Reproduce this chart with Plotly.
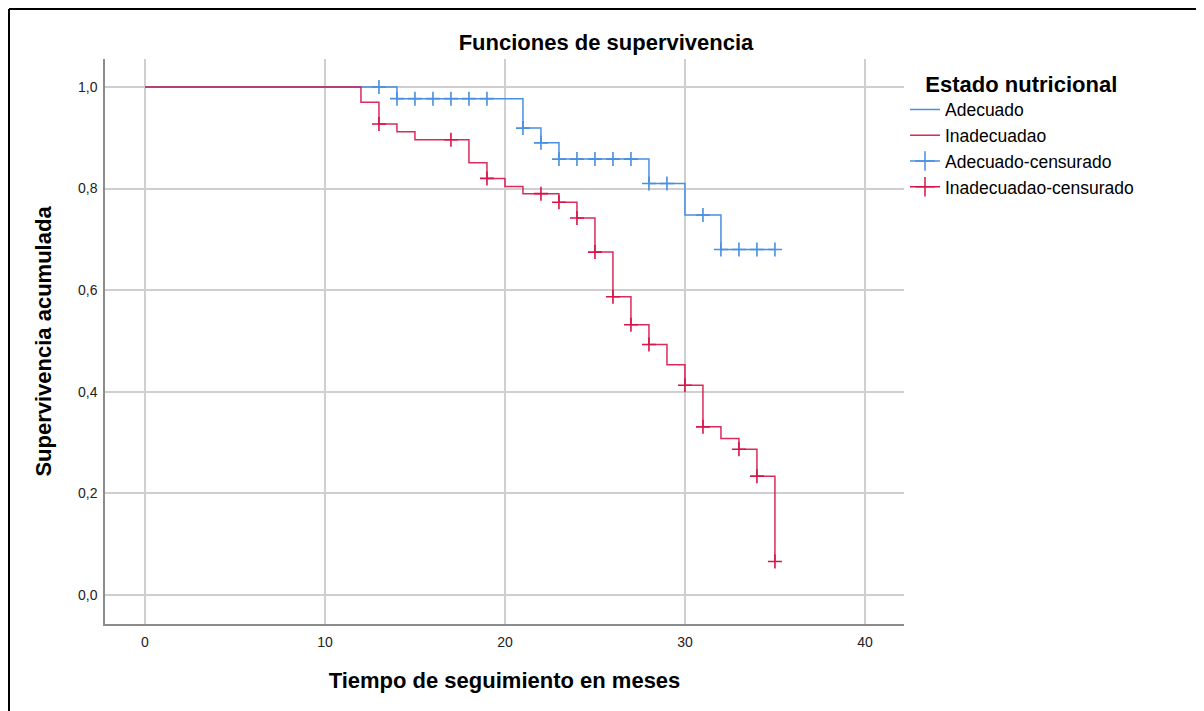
import plotly.graph_objects as go

# ---- data ----
ad_times = [0, 14, 21, 22, 23, 28, 30, 32, 35]
ad_surv = [1.0, 0.977, 0.919, 0.890, 0.858, 0.810, 0.748, 0.680, 0.680]
ad_cens_times = [13, 14, 15, 16, 17, 18, 19, 21, 22, 23, 24, 25, 26, 27, 28, 29, 31, 32, 33, 34, 35]
ad_cens_surv = [1.0, 0.977, 0.977, 0.977, 0.977, 0.977, 0.977, 0.919, 0.890,
                0.858, 0.858, 0.858, 0.858, 0.858, 0.810, 0.810, 0.748,
                0.680, 0.680, 0.680, 0.680]

in_times = [0, 12, 13, 14, 15, 18, 19, 20, 21, 23, 24, 25, 26, 27, 28, 29, 30, 31, 32, 33, 34, 35]
in_surv = [1.0, 0.970, 0.927, 0.912, 0.896, 0.851, 0.820, 0.804, 0.790, 0.773, 0.742,
           0.675, 0.587, 0.532, 0.493, 0.453, 0.413, 0.331, 0.308, 0.287, 0.234, 0.066]
in_cens_times = [13, 17, 19, 22, 23, 24, 25, 26, 27, 28, 30, 31, 33, 34, 35]
in_cens_surv = [0.927, 0.896, 0.820, 0.790, 0.773, 0.742, 0.675, 0.587, 0.532,
                0.493, 0.413, 0.331, 0.287, 0.234, 0.066]

x_ticks = [0, 10, 20, 30, 40]
y_ticks = [0.0, 0.2, 0.4, 0.6, 0.8, 1.0]

BLUE = "#4A8FE0"
RED = "#D6154A"
FONT = "Liberation Sans, Arial, sans-serif"

fig = go.Figure()

# survival step curves
fig.add_trace(go.Scatter(x=ad_times, y=ad_surv, mode="lines", line_shape="hv",
                         line=dict(color=BLUE, width=1.5), name="Adecuado", legendrank=1))
fig.add_trace(go.Scatter(x=in_times, y=in_surv, mode="lines", line_shape="hv",
                         line=dict(color=RED, width=1.5), opacity=0.9,
                         name="Inadecuadao", legendrank=2))

# censor marks
fig.add_trace(go.Scatter(x=ad_cens_times, y=ad_cens_surv, mode="markers",
                         marker=dict(symbol="cross-thin", size=10,
                                     line=dict(color=BLUE, width=1.6)),
                         showlegend=False, name="Adecuado-censurado"))
fig.add_trace(go.Scatter(x=in_cens_times, y=in_cens_surv, mode="markers",
                         marker=dict(symbol="cross-thin", size=10,
                                     line=dict(color=RED, width=1.6)),
                         showlegend=False, name="Inadecuadao-censurado"))

# legend entries for censor marks (line + cross)
fig.add_trace(go.Scatter(x=[None], y=[None], mode="lines+markers",
                         line=dict(color=BLUE, width=1.5),
                         marker=dict(symbol="cross-thin", size=14,
                                     line=dict(color=BLUE, width=1.5)),
                         name="Adecuado-censurado", legendrank=3))
fig.add_trace(go.Scatter(x=[None], y=[None], mode="lines+markers",
                         line=dict(color=RED, width=1.5),
                         marker=dict(symbol="cross-thin", size=14,
                                     line=dict(color=RED, width=1.5)),
                         name="Inadecuadao-censurado", legendrank=4))

# the page body has an 8px margin, so the figure starts at page pixel (8, 8)
OFF = 8
W, H = 1204 - OFF, 711 - OFF
L, T = 105 - OFF, 59 - OFF
R, B = 1204 - 904, 711 - 624
pw, ph = W - L - R, H - T - B

def px_x(p):  # page pixel -> paper x
    return (p - OFF - L) / pw

def px_y(p):  # page pixel -> paper y
    return (H - B - (p - OFF)) / ph

fig.update_layout(
    width=W, height=H,
    margin=dict(l=L, r=R, t=T, b=B),
    paper_bgcolor="white", plot_bgcolor="white",
    separators=", ",
    font=dict(family=FONT, color="#000000", size=14),
    title=dict(text="<b>Funciones de supervivencia</b>", x=0.5, xref="container",
               xanchor="center", y=1 - (42 - OFF) / H, yanchor="middle",
               font=dict(size=22, family=FONT, color="#000000")),
    xaxis=dict(range=[-2.22, 42.17], tickvals=x_ticks, ticktext=[str(v) for v in x_ticks],
               showgrid=True, gridcolor="#CFCFCF", gridwidth=1.5, zeroline=False,
               showline=True, linecolor="#8C8C8C", linewidth=1.5, ticks="",
               tickfont=dict(size=14, color="#222222"), ticklabelstandoff=4,
               title=dict(text="<b>Tiempo de seguimiento en meses</b>",
                          font=dict(size=22, color="#000000"), standoff=24)),
    yaxis=dict(range=[-0.057, 1.055], tickvals=y_ticks, tickformat=".1f",
               showgrid=True, gridcolor="#CFCFCF", gridwidth=1.5, zeroline=False,
               showline=True, linecolor="#8C8C8C", linewidth=1.5, ticks="",
               tickfont=dict(size=14, color="#222222"), ticklabelstandoff=3,
               title=dict(text="<b>Supervivencia acumulada</b>",
                          font=dict(size=22, color="#000000"), standoff=20)),
    legend=dict(x=px_x(905), xanchor="left", y=px_y(63), yanchor="top",
                bgcolor="rgba(0,0,0,0)", tracegroupgap=0,
                title=dict(text="\u00a0\u00a0\u00a0<b>Estado nutricional</b>",
                           font=dict(size=22, color="#000000")),
                font=dict(size=17.5, color="#000000"), itemwidth=30),
    shapes=[
        dict(type="line", xref="paper", yref="paper", x0=px_x(9), x1=px_x(1210),
             y0=px_y(9), y1=px_y(9), line=dict(color="#000000", width=2)),
        dict(type="line", xref="paper", yref="paper", x0=px_x(9), x1=px_x(9),
             y0=px_y(9), y1=px_y(720), line=dict(color="#000000", width=2)),
    ],
    showlegend=True,
)

fig.write_html("out.html")
